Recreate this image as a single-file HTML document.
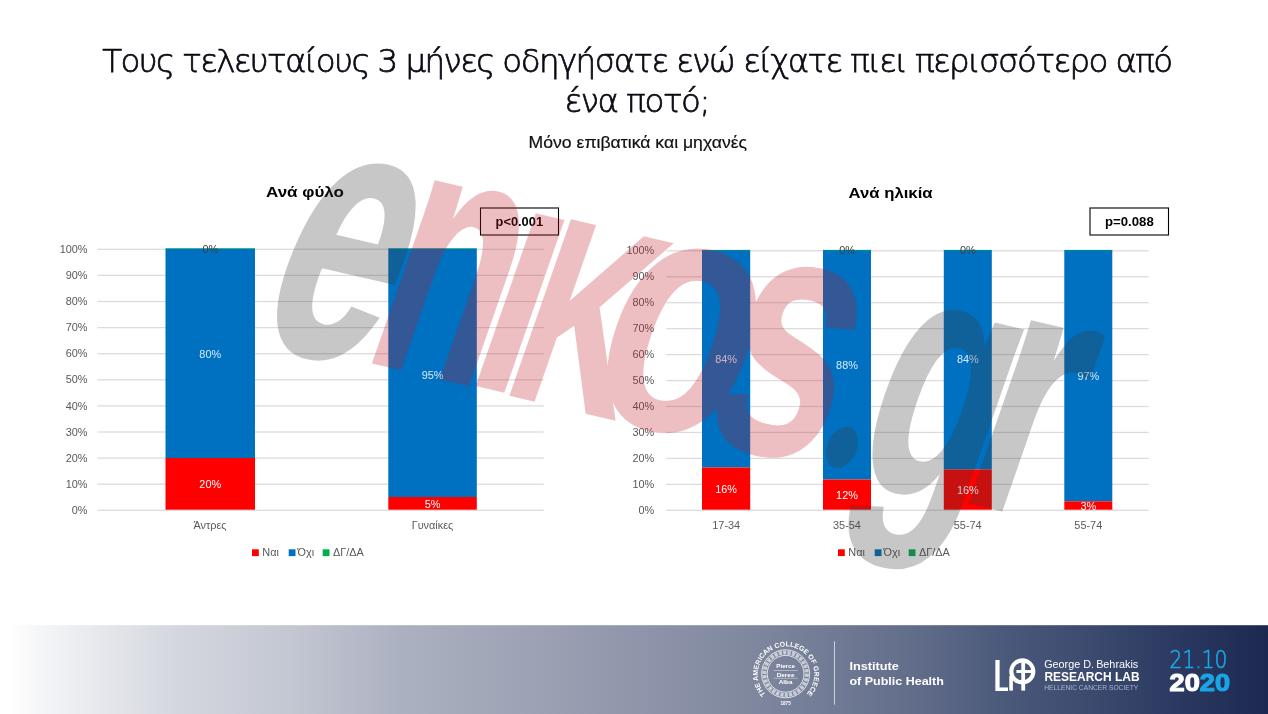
<!DOCTYPE html>
<html lang="el"><head><meta charset="utf-8"><title>Slide</title>
<style>
html,body{margin:0;padding:0;background:#fff;}
body{width:1268px;height:714px;overflow:hidden;position:relative;font-family:"Liberation Sans",sans-serif;}
svg{position:absolute;left:0;top:0;display:block}
.t{font-family:"DejaVu Sans","Liberation Sans",sans-serif;font-weight:200;fill:#0a0a14;stroke:#0a0a14;stroke-width:.75px}
.c{font-family:"Liberation Sans",sans-serif;fill:#595959;font-size:10.9px}
.cb{font-family:"Liberation Sans",sans-serif;font-weight:bold;fill:#000}
.w{font-family:"Liberation Sans",sans-serif;font-weight:bold;font-size:100px}
.f{font-family:"Liberation Sans",sans-serif;fill:#fff}
</style></head><body>
<svg width="1268" height="714" viewBox="0 0 1268 714">
<defs>
<linearGradient id="fg" x1="0" y1="0" x2="1" y2="0">
<stop offset="0" stop-color="#ffffff"/>
<stop offset="0.006" stop-color="#ffffff"/>
<stop offset="0.047" stop-color="#f0f1f4"/>
<stop offset="0.138" stop-color="#d4d7df"/>
<stop offset="0.23" stop-color="#c3c7d2"/>
<stop offset="0.315" stop-color="#acb1c1"/>
<stop offset="0.41" stop-color="#9ea3b5"/>
<stop offset="0.505" stop-color="#8f95aa"/>
<stop offset="0.58" stop-color="#828aa0"/>
<stop offset="0.65" stop-color="#727c96"/>
<stop offset="0.72" stop-color="#626d8a"/>
<stop offset="0.79" stop-color="#4b5a7b"/>
<stop offset="0.86" stop-color="#3b4a6e"/>
<stop offset="0.93" stop-color="#2b3961"/>
<stop offset="1" stop-color="#1c2850"/>
</linearGradient>
</defs>
<rect x="0" y="0" width="1268" height="714" fill="#fff"/>
<text x="637.7" y="71.7" class="t" text-anchor="middle" textLength="1071" lengthAdjust="spacing" font-size="32.5">Τους τελευταίους 3 μήνες οδηγήσατε ενώ είχατε πιει περισσότερο από</text>
<text x="637.5" y="111.7" class="t" text-anchor="middle" textLength="146" lengthAdjust="spacing" font-size="32.5">ένα ποτό;</text>
<text x="637.8" y="147.9" class="c" text-anchor="middle" textLength="218.5" lengthAdjust="spacingAndGlyphs" style="font-size:15.8px;fill:#111;stroke:#111;stroke-width:.2px">Μόνο επιβατικά και μηχανές</text>
<text x="305" y="197.3" class="cb" text-anchor="middle" textLength="78" lengthAdjust="spacingAndGlyphs" font-size="14.6">Ανά φύλο</text>
<text x="890.6" y="197.5" class="cb" text-anchor="middle" textLength="84" lengthAdjust="spacingAndGlyphs" font-size="14.6">Ανά ηλικία</text>
<rect x="97.5" y="509.65" width="446.20000000000005" height="1.3" fill="#dcdcdc"/>
<text x="87.5" y="513.9" class="c" text-anchor="end" >0%</text>
<rect x="97.5" y="483.55" width="446.20000000000005" height="1.3" fill="#dcdcdc"/>
<text x="87.5" y="487.8" class="c" text-anchor="end" >10%</text>
<rect x="97.5" y="457.45" width="446.20000000000005" height="1.3" fill="#dcdcdc"/>
<text x="87.5" y="461.7" class="c" text-anchor="end" >20%</text>
<rect x="97.5" y="431.35" width="446.20000000000005" height="1.3" fill="#dcdcdc"/>
<text x="87.5" y="435.6" class="c" text-anchor="end" >30%</text>
<rect x="97.5" y="405.25" width="446.20000000000005" height="1.3" fill="#dcdcdc"/>
<text x="87.5" y="409.5" class="c" text-anchor="end" >40%</text>
<rect x="97.5" y="379.15" width="446.20000000000005" height="1.3" fill="#dcdcdc"/>
<text x="87.5" y="383.4" class="c" text-anchor="end" >50%</text>
<rect x="97.5" y="353.05" width="446.20000000000005" height="1.3" fill="#dcdcdc"/>
<text x="87.5" y="357.3" class="c" text-anchor="end" >60%</text>
<rect x="97.5" y="326.95" width="446.20000000000005" height="1.3" fill="#dcdcdc"/>
<text x="87.5" y="331.2" class="c" text-anchor="end" >70%</text>
<rect x="97.5" y="300.85" width="446.20000000000005" height="1.3" fill="#dcdcdc"/>
<text x="87.5" y="305.1" class="c" text-anchor="end" >80%</text>
<rect x="97.5" y="274.75" width="446.20000000000005" height="1.3" fill="#dcdcdc"/>
<text x="87.5" y="279.0" class="c" text-anchor="end" >90%</text>
<rect x="97.5" y="248.65" width="446.20000000000005" height="1.3" fill="#dcdcdc"/>
<text x="87.5" y="252.9" class="c" text-anchor="end" >100%</text>
<rect x="165.5" y="248.5" width="89.5" height="209.5" fill="#0070c0"/>
<rect x="165.5" y="458" width="89.5" height="51.7" fill="#ff0000"/>
<rect x="165.5" y="248.3" width="89.5" height="0.7" fill="#00b050" opacity="0.7"/>
<text x="210.25" y="357.5" class="c" text-anchor="middle" style="fill:#d6ecfb">80%</text>
<text x="210.25" y="488.2" class="c" text-anchor="middle" style="fill:#fff">20%</text>
<text x="210.25" y="252.9" class="c" text-anchor="middle" style="fill:#404040">0%</text>
<rect x="388.3" y="248.5" width="88.5" height="248.5" fill="#0070c0"/>
<rect x="388.3" y="497" width="88.5" height="12.7" fill="#ff0000"/>
<rect x="388.3" y="248.3" width="88.5" height="0.7" fill="#00b050" opacity="0.7"/>
<text x="432.55" y="378.5" class="c" text-anchor="middle" style="fill:#d6ecfb">95%</text>
<text x="432.55" y="508.3" class="c" text-anchor="middle" style="fill:#fff">5%</text>
<text x="210" y="529.2" class="c" text-anchor="middle" >Άντρες</text>
<text x="432.5" y="529.2" class="c" text-anchor="middle" >Γυναίκες</text>
<rect x="252" y="549.3" width="6.8" height="6.8" fill="#ff0000"/>
<text x="262.3" y="555.6" class="c" text-anchor="start" >Ναι</text>
<rect x="288.7" y="549.3" width="6.8" height="6.8" fill="#0070c0"/>
<text x="297.5" y="555.6" class="c" text-anchor="start" >Όχι</text>
<rect x="322.7" y="549.3" width="6.8" height="6.8" fill="#00b050"/>
<text x="333" y="555.6" class="c" text-anchor="start" >ΔΓ/ΔΑ</text>
<rect x="666.2" y="509.65" width="482.5" height="1.3" fill="#dcdcdc"/>
<text x="654.3" y="513.9" class="c" text-anchor="end" >0%</text>
<rect x="666.2" y="483.70" width="482.5" height="1.3" fill="#dcdcdc"/>
<text x="654.3" y="487.95" class="c" text-anchor="end" >10%</text>
<rect x="666.2" y="457.75" width="482.5" height="1.3" fill="#dcdcdc"/>
<text x="654.3" y="462.0" class="c" text-anchor="end" >20%</text>
<rect x="666.2" y="431.80" width="482.5" height="1.3" fill="#dcdcdc"/>
<text x="654.3" y="436.05" class="c" text-anchor="end" >30%</text>
<rect x="666.2" y="405.85" width="482.5" height="1.3" fill="#dcdcdc"/>
<text x="654.3" y="410.1" class="c" text-anchor="end" >40%</text>
<rect x="666.2" y="379.90" width="482.5" height="1.3" fill="#dcdcdc"/>
<text x="654.3" y="384.15" class="c" text-anchor="end" >50%</text>
<rect x="666.2" y="353.95" width="482.5" height="1.3" fill="#dcdcdc"/>
<text x="654.3" y="358.2" class="c" text-anchor="end" >60%</text>
<rect x="666.2" y="328.00" width="482.5" height="1.3" fill="#dcdcdc"/>
<text x="654.3" y="332.25" class="c" text-anchor="end" >70%</text>
<rect x="666.2" y="302.05" width="482.5" height="1.3" fill="#dcdcdc"/>
<text x="654.3" y="306.3" class="c" text-anchor="end" >80%</text>
<rect x="666.2" y="276.10" width="482.5" height="1.3" fill="#dcdcdc"/>
<text x="654.3" y="280.35" class="c" text-anchor="end" >90%</text>
<rect x="666.2" y="250.15" width="482.5" height="1.3" fill="#dcdcdc"/>
<text x="654.3" y="254.4" class="c" text-anchor="end" >100%</text>
<rect x="702" y="250.0" width="48.200000000000045" height="217.5" fill="#0070c0"/>
<rect x="702" y="467.5" width="48.200000000000045" height="42.2" fill="#ff0000"/>
<rect x="702" y="249.8" width="48.200000000000045" height="0.7" fill="#00b050" opacity="0.7"/>
<text x="726.1" y="362.5" class="c" text-anchor="middle" style="fill:#d6ecfb">84%</text>
<text x="726.1" y="493" class="c" text-anchor="middle" style="fill:#fff">16%</text>
<rect x="823" y="250.0" width="48" height="229.5" fill="#0070c0"/>
<rect x="823" y="479.5" width="48" height="30.2" fill="#ff0000"/>
<rect x="823" y="249.8" width="48" height="0.7" fill="#00b050" opacity="0.7"/>
<text x="847.0" y="368.7" class="c" text-anchor="middle" style="fill:#d6ecfb">88%</text>
<text x="847.0" y="499" class="c" text-anchor="middle" style="fill:#fff">12%</text>
<text x="847.0" y="254.4" class="c" text-anchor="middle" style="fill:#404040">0%</text>
<rect x="943.8" y="250.0" width="48.0" height="219.5" fill="#0070c0"/>
<rect x="943.8" y="469.5" width="48.0" height="40.2" fill="#ff0000"/>
<rect x="943.8" y="249.8" width="48.0" height="0.7" fill="#00b050" opacity="0.7"/>
<text x="967.8" y="362.5" class="c" text-anchor="middle" style="fill:#d6ecfb">84%</text>
<text x="967.8" y="493.7" class="c" text-anchor="middle" style="fill:#fff">16%</text>
<text x="967.8" y="254.4" class="c" text-anchor="middle" style="fill:#404040">0%</text>
<rect x="1064.3" y="250.0" width="48.0" height="251.3" fill="#0070c0"/>
<rect x="1064.3" y="501.3" width="48.0" height="8.399999999999988" fill="#ff0000"/>
<rect x="1064.3" y="249.8" width="48.0" height="0.7" fill="#00b050" opacity="0.7"/>
<text x="1088.3" y="380" class="c" text-anchor="middle" style="fill:#d6ecfb">97%</text>
<text x="1088.3" y="510" class="c" text-anchor="middle" style="fill:#fff">3%</text>
<text x="726.2" y="529.2" class="c" text-anchor="middle" >17-34</text>
<text x="847" y="529.2" class="c" text-anchor="middle" >35-54</text>
<text x="967.7" y="529.2" class="c" text-anchor="middle" >55-74</text>
<text x="1088.3" y="529.2" class="c" text-anchor="middle" >55-74</text>
<rect x="838" y="549.3" width="6.8" height="6.8" fill="#ff0000"/>
<text x="848.3" y="555.6" class="c" text-anchor="start" >Ναι</text>
<rect x="874.7" y="549.3" width="6.8" height="6.8" fill="#0070c0"/>
<text x="883.5" y="555.6" class="c" text-anchor="start" >Όχι</text>
<rect x="908.7" y="549.3" width="6.8" height="6.8" fill="#00b050"/>
<text x="919" y="555.6" class="c" text-anchor="start" >ΔΓ/ΔΑ</text>
<rect x="480.5" y="208" width="78.0" height="27" fill="#fff" stroke="#000" stroke-width="1.1"/>
<text x="519.3" y="226.3" class="cb" text-anchor="middle" textLength="47.5" lengthAdjust="spacingAndGlyphs" font-size="12.6">p&lt;0.001</text>
<rect x="1090" y="208" width="78.5" height="27" fill="#fff" stroke="#000" stroke-width="1.1"/>
<text x="1129.4" y="226.3" class="cb" text-anchor="middle" textLength="48.7" lengthAdjust="spacingAndGlyphs" font-size="12.6">p=0.088</text>
<rect x="0" y="625.2" width="1268" height="88.8" fill="url(#fg)"/>
<path id="seal" d="M 765.71 694.19 A 28.2 28.2 0 1 1 806.62 693.83" fill="none"/>
<text class="f" font-size="7" font-weight="bold"><textPath href="#seal" startOffset="0" textLength="130.9" lengthAdjust="spacingAndGlyphs">THE AMERICAN COLLEGE OF GREECE</textPath></text>
<circle cx="785.6" cy="673.8" r="24" fill="none" stroke="#fff" stroke-width="0.8" opacity="0.95"/>
<circle cx="785.6" cy="673.8" r="18.4" fill="none" stroke="#fff" stroke-width="0.8" opacity="0.95"/>
<circle cx="785.6" cy="673.8" r="21.2" fill="none" stroke="#fff" stroke-width="4" stroke-dasharray="3.2 1.2" opacity="0.6"/>
<text x="785.6" y="668.4" class="f" text-anchor="middle" font-size="5.9" font-weight="bold" textLength="18.6" lengthAdjust="spacingAndGlyphs">Pierce</text>
<text x="785.6" y="676.5" class="f" text-anchor="middle" font-size="5.9" font-weight="bold" textLength="17.8" lengthAdjust="spacingAndGlyphs">Deree</text>
<text x="785.6" y="684.4" class="f" text-anchor="middle" font-size="5.9" font-weight="bold" textLength="13.6" lengthAdjust="spacingAndGlyphs">Alba</text>
<rect x="773.6" y="670.1999999999999" width="24" height="0.5" fill="#fff" opacity="0.8"/>
<rect x="773.6" y="677.9" width="24" height="0.5" fill="#fff" opacity="0.8"/>
<text x="785.6" y="704.5999999999999" class="f" text-anchor="middle" font-size="4.6" font-weight="bold">1875</text>
<rect x="834" y="641.3" width="1" height="63.4" fill="#fff" opacity="0.65"/>
<text x="849.4" y="670.2" class="f" font-size="10.9" font-weight="bold" textLength="49.5" lengthAdjust="spacingAndGlyphs">Institute</text>
<text x="849.4" y="685.3" class="f" font-size="10.9" font-weight="bold" textLength="94.5" lengthAdjust="spacingAndGlyphs">of Public Health</text>
<clipPath id="lc"><rect x="990" y="650" width="18.1" height="45"/></clipPath>
<text x="991.8" y="690.6" class="f" font-size="44.6" clip-path="url(#lc)">L</text>
<circle cx="1022.3" cy="671.4" r="11" fill="none" stroke="#fff" stroke-width="4.1"/>
<rect x="1021.3" y="659" width="3.8" height="31.6" fill="#fff"/>
<rect x="1016.4" y="670" width="16" height="3" fill="#fff"/>
<rect x="1009.3" y="676" width="3.6" height="14.6" fill="#fff"/>
<text x="1044.2" y="667.7" class="f" font-size="10.6" textLength="94" lengthAdjust="spacingAndGlyphs">George D.&#8201;Behrakis</text>
<text x="1044.4" y="681" class="f" font-size="12.4" font-weight="bold" textLength="95.2" lengthAdjust="spacingAndGlyphs">RESEARCH LAB</text>
<text x="1044.3" y="690.2" class="f" font-size="6.3" textLength="94" lengthAdjust="spacingAndGlyphs" style="fill:#a9b7d3">HELLENIC CANCER SOCIETY</text>
<text x="1169.6" y="667.5" font-size="24.2" textLength="57.8" lengthAdjust="spacingAndGlyphs" style="font-family:'DejaVu Sans','Liberation Sans',sans-serif;font-weight:200;fill:#1aa5e6;stroke:#1aa5e6;stroke-width:.65px">21.10</text>
<text x="1169.6" y="691.3" class="f" font-size="23.2" font-weight="bold" textLength="60.4" lengthAdjust="spacingAndGlyphs" stroke-width="1.1"><tspan fill="#fff" stroke="#fff">20</tspan><tspan style="fill:#1aa5e6" stroke="#1aa5e6">20</tspan></text>
<g opacity="0.278" fill="#3a3a3a" stroke="#3a3a3a" stroke-width="1"><text class="w" transform="matrix(2.1436 0.4949 -1.4551 3.4887 247.89 340.05)" x="0" y="0">e</text></g><g opacity="0.27" fill="#c01625" stroke="#c01625" stroke-width="1"><text class="w" transform="matrix(1.9861 0.4659 -1.1839 3.3998 359.60 358.75)" x="0" y="0">n</text><text class="w" transform="matrix(2.8428 0.6669 -1.2497 3.5886 462.40 382.87)" x="0" y="0" style="font-variant:small-caps" stroke-width="0">i</text><text class="w" transform="matrix(2.2684 0.5322 -1.2497 3.5886 500.50 391.81)" x="0" y="0" style="font-variant:small-caps">k</text><text class="w" transform="matrix(2.4339 0.5710 -1.1510 3.3053 576.67 410.70)" x="0" y="0" stroke-width="0">o</text><text class="w" transform="matrix(2.2392 0.5253 -1.1839 3.3998 695.00 437.44)" x="0" y="0" stroke-width="0.3">s</text></g><g opacity="0.278" fill="#3a3a3a" stroke="#3a3a3a" stroke-width="1"><text class="w" transform="matrix(1.6843 0.3951 -0.8123 2.3326 815.47 458.04)" x="0" y="0" style="font-family:'Liberation Serif',serif">.</text><text class="w" transform="matrix(2.1029 0.4933 -1.1642 3.3431 846.53 480.65)" x="0" y="0">g</text><text class="w" transform="matrix(2.3171 0.5436 -1.1839 3.3998 953.80 498.15)" x="0" y="0">r</text></g>
</svg>
</body></html>
